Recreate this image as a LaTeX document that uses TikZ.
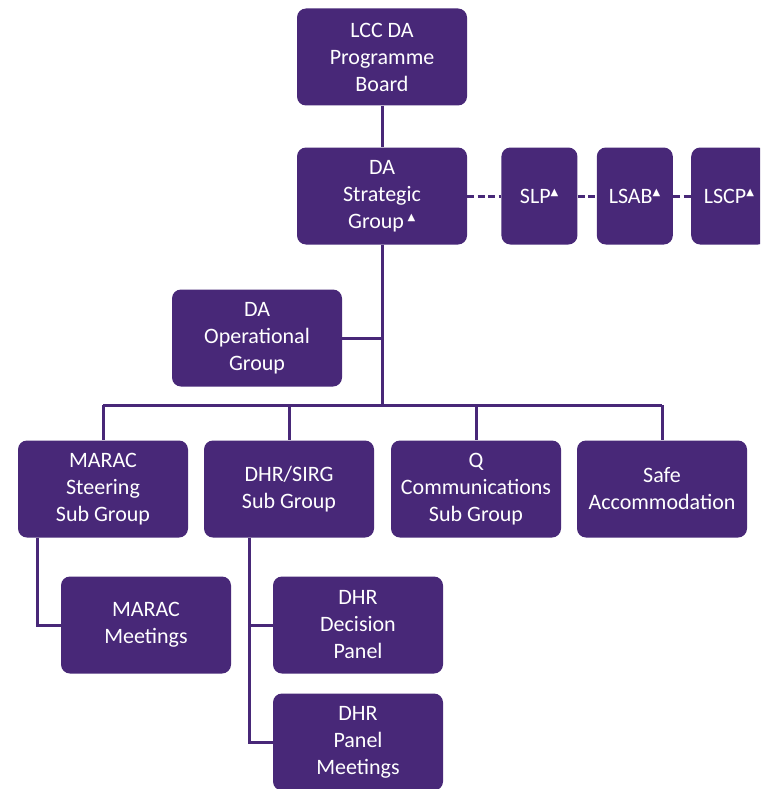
\documentclass[tikz,border=0pt]{standalone}
\usepackage{fontspec}
\setmainfont{Carlito}
\newfontfamily\trifont{DejaVu Sans}
\usetikzlibrary{positioning}
\usepackage{xcolor}
\definecolor{daPurple}{HTML}{482878}
\newcommand{\uptri}{\textsuperscript{\trifont\fontsize{10}{10}\selectfont ▲}}

\begin{document}
\begin{tikzpicture}[
    x=1pt, y=-1pt,
    node distance=19pt,
    every node/.style={font=\fontsize{22}{27}\selectfont},
    group/.style={rectangle, rounded corners=9pt, fill=daPurple, text=white, align=center, minimum width=170pt, minimum height=97pt, inner sep=2pt},
    partner/.style={group, minimum width=76pt},
    link/.style={draw=daPurple, line width=3pt},
    partnerlink/.style={link, dash pattern=on 7pt off 3.5pt}
]
    \clip (0,0) rectangle (760,789);
    \fill[white] (0,0) rectangle (760,789);

    % top of the structure
    \node[group] (board) at (382,57) {LCC DA\\Programme\\Board};
    \node[group] (strategic) at (382,196) {DA\\Strategic\\Group\,\uptri};
    \node[group] (operational) at (257,338) {DA\\Operational\\Group};

    % partnership boards
    \node[partner, right=34pt of strategic] (slp) {SLP\uptri};
    \node[partner, right=of slp] (lsab) {LSAB\uptri};
    \node[partner, right=18pt of lsab] (lscp) {LSCP\uptri};

    % sub groups
    \node[group] (marac) at (103,489) {MARAC\\Steering\\Sub Group};
    \node[group] (dhrsirg) at (289,489) {DHR/SIRG\\Sub Group};
    \node[group] (qcomms) at (476,489) {Q\\Communications\\Sub Group};
    \node[group] (safe) at (662,489) {Safe\\Accommodation};

    \node[group] (maracmeet) at (146,625) {MARAC\\Meetings};
    \node[group] (dhrpanel) at (358,625) {DHR\\Decision\\Panel};
    \node[group] (dhrmeet) at (358,742) {DHR\\Panel\\Meetings};

    \coordinate (bus) at (382,405);
    \coordinate (maracdrop) at ([xshift=20pt]marac.south west);
    \coordinate (dhrdrop) at ([xshift=46pt]dhrsirg.south west);

    % connectors
    \draw[link] (board) -- (strategic);
    \draw[link] (strategic) -- (bus);
    \draw[link] (operational) -- (operational -| bus);
    \draw[link] (marac.north |- bus) -- (safe.north |- bus);
    \foreach \grp in {marac,dhrsirg,qcomms,safe}
        \draw[link] (\grp.north |- bus) -- (\grp);
    \draw[link] (maracdrop) |- (maracmeet.west);
    \draw[link] (dhrdrop) |- (dhrmeet.west);
    \draw[link] (dhrpanel.west) -| (dhrdrop);

    \draw[partnerlink] (strategic) -- (slp);
    \draw[partnerlink] (slp) -- (lsab);
    \draw[partnerlink] (lsab) -- (lscp);
\end{tikzpicture}
\end{document}
